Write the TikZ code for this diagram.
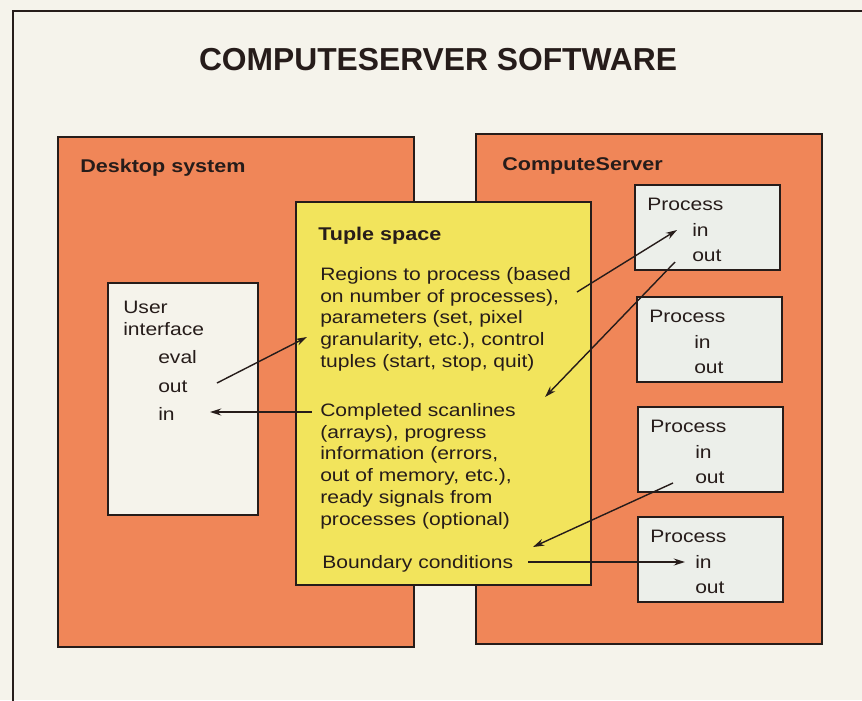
\documentclass[tikz,border=0pt]{standalone}
\usepackage{fontspec}
\setmainfont{Liberation Sans}[FakeStretch=1.17]
\newfontfamily\titlefont{Liberation Sans}
\usetikzlibrary{arrows.meta}

\definecolor{paper}{RGB}{245,243,235}
\definecolor{rust}{RGB}{240,134,88}
\definecolor{lemon}{RGB}{242,228,92}
\definecolor{chalk}{RGB}{236,239,234}
\definecolor{ink}{RGB}{38,28,26}

\tikzset{
  panel/.style={draw=ink, line width=1.4pt},
  txt/.style={anchor=base west, inner sep=0pt, text=ink, font=\fontsize{12.8}{15.5}\selectfont},
  heading/.style={txt, font=\fontsize{13.1}{15.7}\selectfont\bfseries},
  flow/.style={-{Stealth[length=8pt,width=5pt]}, draw=ink, line width=1pt}
}

\begin{document}
\begin{tikzpicture}[x=0.025cm, y=-0.025cm]
\clip (0,0) rectangle (862,700);
\fill[paper] (0,0) rectangle (862,700);
% Page frame
\draw[ink, line width=1pt] (13,11) rectangle (900,720);

% Title
\node[anchor=base, inner sep=0pt, text=ink, font=\titlefont\fontsize{22.6}{27}\selectfont\bfseries] (title) at (438,70) {COMPUTESERVER SOFTWARE};

% Desktop system
\draw[panel, fill=rust] (58,137) rectangle (414,647);
\node[heading] (desk) at (80,172) {Desktop system};

% ComputeServer
\draw[panel, fill=rust] (476,134) rectangle (822,644);
\node[heading] (server) at (502,170) {ComputeServer};

% User interface
\draw[panel, fill=paper] (108,283) rectangle (258,515);
\node[txt, align=left, anchor=north west] (ui) at (123,301) {User\\interface};
\node[txt] (eval) at (158,363) {eval};
\node[txt] (ui-out) at (158,392) {out};
\node[txt] (ui-in) at (158,420) {in};

% Tuple space
\draw[panel, fill=lemon] (296,202) rectangle (591,585);
\node[heading] (tuple) at (318,240) {Tuple space};
\node[txt, align=left, anchor=north west] (req) at (320,267)
  {Regions to process (based\\on number of processes),\\parameters (set, pixel\\granularity, etc.), control\\tuples (start, stop, quit)};
\node[txt, align=left, anchor=north west] (res) at (320,403)
  {Completed scanlines\\(arrays), progress\\information (errors,\\out of memory, etc.),\\ready signals from\\processes (optional)};
\node[txt] (bound) at (322,568) {Boundary conditions};

% Processes
\foreach \i/\t/\l in {1/185/635, 2/297/637, 3/407/638, 4/517/638} {
  \draw[panel, fill=chalk] (\l,\t) rectangle (\l+145,\t+85);
  \node[txt] (p\i) at (\l+12,\t+25) {Process};
  \node[txt] (p\i-in) at (\l+57,\t+51) {in};
  \node[txt] (p\i-out) at (\l+57,\t+76) {out};
}

% Flows
\draw[flow] ([shift={(59,-9)}]ui-out.base west) -- ([shift={(-13,70)}]req.north west);
\draw[flow] ([shift={(-8,9)}]res.north west) -- ([shift={(52,-8)}]ui-in.base west);
\draw[flow] ([shift={(257,25)}]req.north west) -- ([shift={(-15,-6)}]p1-in.base west);
\draw[flow] ([shift={(-17,1)}]p1-out.base west) -- ([shift={(225,-6)}]res.north west);
\draw[flow] ([shift={(-22,0)}]p3-out.base west) -- ([shift={(211,-21)}]bound.base west);
\draw[flow] ([shift={(206,-6)}]bound.base west) -- ([shift={(-10,-6)}]p4-in.base west);
\end{tikzpicture}
\end{document}
